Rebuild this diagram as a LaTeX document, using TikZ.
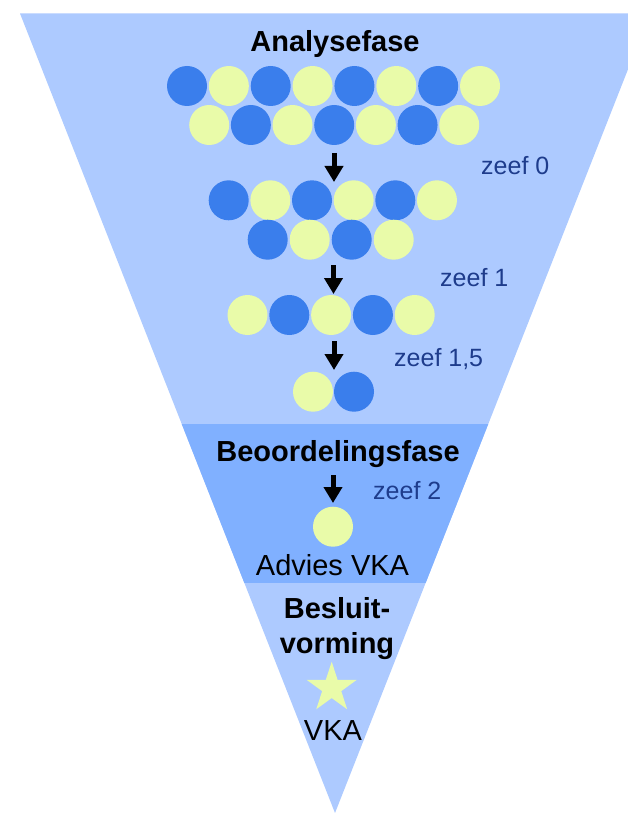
\documentclass[tikz,border=0pt]{standalone}
\usepackage{fontspec}
\setmainfont{Liberation Sans}
\usetikzlibrary{arrows.meta,shapes.geometric}

\definecolor{funnellight}{HTML}{ADCAFF}
\definecolor{funneldark}{HTML}{80B0FF}
\definecolor{optblue}{HTML}{3A7EEC}
\definecolor{optyellow}{HTML}{E9FBA9}
\definecolor{sievetext}{HTML}{1E3C8C}

\tikzset{
  ball/.style={circle, minimum size=40pt, inner sep=0pt, draw=none},
  bb/.style={ball, fill=optblue},
  by/.style={ball, fill=optyellow},
  phase/.style={font=\fontsize{29}{35}\selectfont\bfseries, anchor=base, inner sep=0pt},
  plain/.style={font=\fontsize{29}{35}\selectfont, anchor=base, inner sep=0pt},
  sieve/.style={font=\fontsize{25}{30}\selectfont, text=sievetext, anchor=base west, inner sep=0pt},
  flow/.style={line width=5pt, -{Triangle[width=18pt,length=16pt]}},
}

\begin{document}
\begin{tikzpicture}[x=1pt,y=-1pt]
  \useasboundingbox (0,0) rectangle (628,813);

  % funnel with its three phases
  \begin{scope}
    \clip (0,0) rectangle (628,813);
    \path[fill=funnellight] (20,13.5) -- (650,13.5) -- (335,813) -- cycle;
    \clip (20,13.5) -- (650,13.5) -- (335,813) -- cycle;
    \fill[funneldark] (0,424) rectangle (628,583);
  \end{scope}

  % analysis phase
  \node[phase] (analyse) at (335,52) {Analysefase};

  \foreach \i in {0,...,7} {
    \pgfmathtruncatemacro{\odd}{mod(\i,2)}
    \ifnum\odd=0 \def\kind{bb}\else\def\kind{by}\fi
    \node[\kind] (r1-\i) at ({187+41.86*\i},86) {};
  }
  \foreach \i in {0,...,6} {
    \pgfmathtruncatemacro{\odd}{mod(\i,2)}
    \ifnum\odd=0 \def\kind{by}\else\def\kind{bb}\fi
    \node[\kind] (r2-\i) at ({209.2+41.67*\i},125) {};
  }
  \foreach \i in {0,...,5} {
    \pgfmathtruncatemacro{\odd}{mod(\i,2)}
    \ifnum\odd=0 \def\kind{bb}\else\def\kind{by}\fi
    \node[\kind] (r3-\i) at ({228.7+41.65*\i},200.3) {};
  }
  \foreach \i in {0,...,3} {
    \pgfmathtruncatemacro{\odd}{mod(\i,2)}
    \ifnum\odd=0 \def\kind{bb}\else\def\kind{by}\fi
    \node[\kind] (r4-\i) at ({267.7+42*\i},239.7) {};
  }
  \foreach \i in {0,...,4} {
    \pgfmathtruncatemacro{\odd}{mod(\i,2)}
    \ifnum\odd=0 \def\kind{by}\else\def\kind{bb}\fi
    \node[\kind] (r5-\i) at ({247.5+41.8*\i},315) {};
  }
  \node[by] (r6-0) at (313,391.7) {};
  \node[bb] (r6-1) at (354,391.7) {};

  % sieve steps
  \coordinate (s0a) at (334,153);   \coordinate (s0b) at (334,182);
  \coordinate (s1a) at (333.5,265); \coordinate (s1b) at (333.5,294);
  \coordinate (s2a) at (334,341);   \coordinate (s2b) at (334,370);
  \coordinate (s3a) at (333,475);   \coordinate (s3b) at (333,503);
  \draw[flow] (s0a) -- (s0b);
  \draw[flow] (s1a) -- (s1b);
  \draw[flow] (s2a) -- (s2b);
  \draw[flow] (s3a) -- (s3b);

  \node[sieve] (z0) at (481,174.3) {zeef 0};
  \node[sieve] (z1) at (440,286) {zeef 1};
  \node[sieve] (z15) at (394,366.7) {zeef 1,5};
  \node[sieve] (z2) at (373,499.3) {zeef 2};

  % assessment phase
  \node[phase] (beoordeling) at (338,461.7) {Beoordelingsfase};
  \node[by] (advies) at (333,526.7) {};
  \node[plain] (adviestxt) at (332.5,575) {Advies VKA};

  % decision phase
  \node[phase] (besluit1) at (337,618.3) {Besluit-};
  \node[phase] (besluit2) at (337,653.3) {vorming};
  \node[star, star points=5, star point ratio=2.618, minimum size=52.6pt,
        inner sep=0pt, fill=optyellow] (vka) at (331.7,688) {};
  \node[plain] (vkatxt) at (333,740.7) {VKA};
\end{tikzpicture}
\end{document}
